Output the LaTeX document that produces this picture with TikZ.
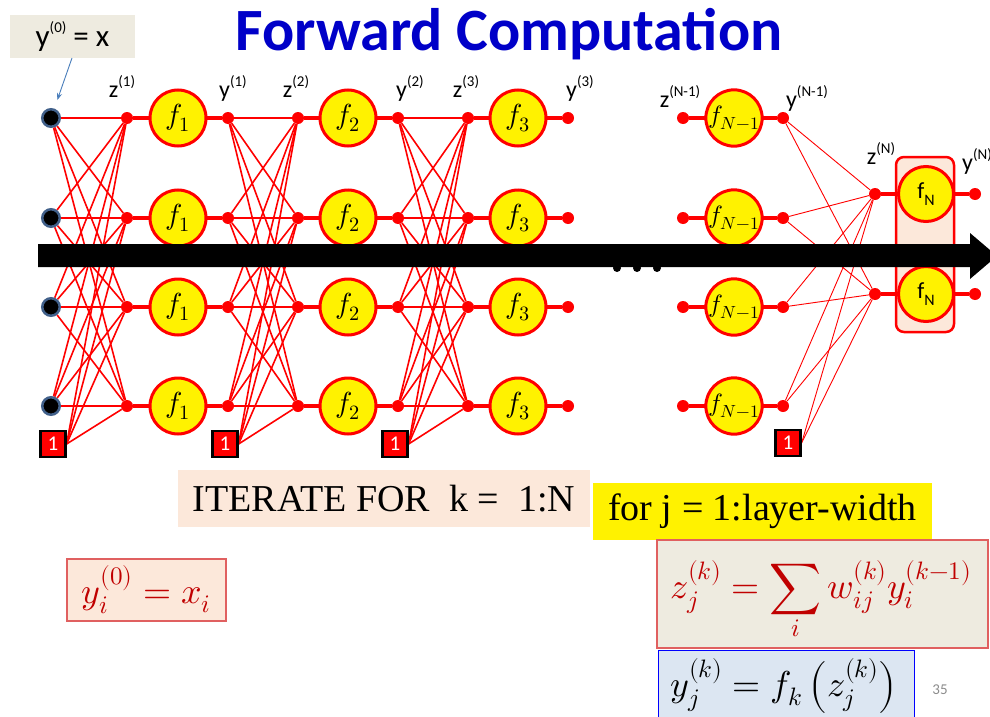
\documentclass[tikz,border=0pt]{standalone}
\usepackage{amsmath}
\usepackage{fontspec}
\usepackage{unicode-math}
\setmathfont{Latin Modern Math}
\newfontfamily\carl{Carlito}
\newfontfamily\tms{Liberation Serif}
\usetikzlibrary{arrows.meta}
\pgfdeclarelayer{bg}
\pgfsetlayers{bg,main}
\definecolor{tblue}{RGB}{0,0,200}
\definecolor{inborder}{RGB}{65,96,138}
\definecolor{peach}{RGB}{252,232,218}
\definecolor{beige}{RGB}{238,235,224}
\definecolor{lblue}{RGB}{220,230,242}
\definecolor{dred}{RGB}{192,0,0}
\definecolor{pinkred}{RGB}{224,96,96}
\definecolor{arrblue}{RGB}{74,126,187}
\definecolor{pgray}{RGB}{140,140,140}
\newcommand{\myup}[1]{\raisebox{0.45em}{\fontsize{15}{15}\selectfont #1}}
\tikzset{
  fnode/.style={circle, draw=red, line width=3pt, fill=yellow, minimum size=56pt, inner sep=0pt, font=\fontsize{29}{31}\selectfont},
  dotn/.style={circle, fill=red, minimum size=12pt, inner sep=0pt},
  innode/.style={circle, fill=black, draw=inborder, line width=2.5pt, minimum size=17.5pt, inner sep=0pt},
  biasbox/.style={rectangle, fill=red, draw=black, line width=2.2pt, minimum width=25pt, minimum height=26pt, inner sep=0pt, text=white, font=\carl\fontsize{21}{21}\selectfont},
  fanline/.style={red, line width=1.6pt},
  fanlinethin/.style={red, line width=0.9pt},
  chain/.style={red, line width=4pt},
  lab/.style={anchor=base, inner sep=0pt, font=\carl\fontsize{24}{26}\selectfont},
}
\begin{document}
\begin{tikzpicture}[x=1pt,y=-1pt]
\useasboundingbox (0,0) rectangle (990,717);

% title
\node[anchor=base, inner sep=0pt, text=tblue, font=\carl\bfseries\fontsize{60}{62}\selectfont] (title) at (509,51) {Forward Computation};

% y(0)=x box
\node[fill=beige, minimum width=125pt, minimum height=43pt, inner sep=0pt, font=\carl\fontsize{31}{33}\selectfont] (y0box) at (72.5,36.5) {y\myup{(0)} = x};

% nodes of the first layers
\foreach \yy [count=\i] in {118,218,307,406} {
  \node[innode] (x\i) at (51,\yy) {};
  \node[dotn] (za\i) at (127,\yy) {};
  \node[fnode] (fa\i) at (178,\yy) {$f_1$};
  \node[dotn] (ya\i) at (228,\yy) {};
  \node[dotn] (zb\i) at (298,\yy) {};
  \node[fnode] (fb\i) at (348,\yy) {$f_2$};
  \node[dotn] (yb\i) at (398,\yy) {};
  \node[dotn] (zc\i) at (468,\yy) {};
  \node[fnode] (fc\i) at (518,\yy) {$f_3$};
  \node[dotn] (yc\i) at (568,\yy) {};
  \node[dotn] (zd\i) at (683,\yy) {};
  \node[fnode, font=\fontsize{25}{27}\selectfont] (fd\i) at (734,\yy) {$f_{N-1}$};
  \node[dotn] (yd\i) at (783,\yy) {};
}
\node[biasbox] (b1) at (53,444) {1};
\node[biasbox] (b2) at (225,444) {1};
\node[biasbox] (b3) at (395,444) {1};
\node[biasbox] (b4) at (788,443) {1};

% last layer
\node[draw=red, line width=2.5pt, fill=peach, rounded corners=8pt, minimum width=58pt, minimum height=175pt, inner sep=0pt] (fnbox) at (925,244.5) {};
\foreach \yy [count=\i] in {194,294} {
  \node[dotn] (ze\i) at (875,\yy) {};
  \node[fnode, minimum size=55pt, font=\carl\fontsize{23}{25}\selectfont] (fe\i) at (926,\yy) {f\raisebox{-0.3em}{\fontsize{16}{16}\selectfont N}};
  \node[dotn] (ye\i) at (975,\yy) {};
}

% connectors behind
\begin{pgfonlayer}{bg}
\foreach \i in {1,...,4} {
  \draw[chain] (za\i) -- (ya\i);
  \draw[chain] (zb\i) -- (yb\i);
  \draw[chain] (zc\i) -- (yc\i);
  \draw[chain] (zd\i) -- (yd\i);
  \draw[fanline] (b1.east) -- (za\i);
  \draw[fanline] (b2.east) -- (zb\i);
  \draw[fanline] (b3.east) -- (zc\i);
  \foreach \j in {1,...,4} {
    \draw[fanline] (x\i) -- (za\j);
    \draw[fanline] (ya\i) -- (zb\j);
    \draw[fanline] (yb\i) -- (zc\j);
  }
  \foreach \j in {1,2} {
    \draw[fanlinethin] (yd\i) -- (ze\j);
  }
}
\foreach \j in {1,2} {
  \draw[fanlinethin] (b4.east) -- (ze\j);
  \draw[chain] (ze\j) -- (ye\j);
}
\end{pgfonlayer}

% pointer from y(0)=x
\coordinate (ptr) at (72,58);
\draw[arrblue, line width=0.9pt, -{Stealth[length=7pt,width=5pt]}, shorten >=9pt] (ptr) -- (x1);

% labels
\node[lab] (lz1) at (122,97) {z\myup{(1)}};
\node[lab] (ly1) at (233,97) {y\myup{(1)}};
\node[lab] (lz2) at (296,97) {z\myup{(2)}};
\node[lab] (ly2) at (410,97) {y\myup{(2)}};
\node[lab] (lz3) at (466,97) {z\myup{(3)}};
\node[lab] (ly3) at (580,97) {y\myup{(3)}};
\node[lab] (lzn1) at (680,107) {z\myup{(N-1)}};
\node[lab] (lyn1) at (807,107) {y\myup{(N-1)}};
\node[lab] (lzn) at (881,164) {z\myup{(N)}};
\node[lab, anchor=base west] (lyn) at (962,170) {y\myup{(N)}};

% ellipsis and big arrow
\foreach \xx [count=\k] in {617,637,657} {
  \fill (\xx,268) circle (4pt);
}
\fill (38,244) -- (970,244) -- (970,233) -- (997,256) -- (970,279) -- (970,267) -- (38,267) -- cycle;

% bottom boxes
\node[fill=peach, minimum width=412pt, minimum height=57pt, inner sep=0pt, font=\tms\fontsize{38}{40}\selectfont] (iter) at (384,498.5) {ITERATE FOR\ \ k =\ \ 1:N};
\node[fill=yellow, minimum width=339pt, minimum height=57pt, inner sep=0pt, font=\tms\fontsize{38}{40}\selectfont] (forj) at (762.5,511.5) {for j = 1:layer-width};

\node[fill=peach, draw=pinkred, line width=1.3pt, minimum width=159pt, minimum height=62pt, inner sep=0pt, text=dred, font=\fontsize{36}{38}\selectfont] (init) at (146.5,590) {$y_i^{(0)} = x_i$};

\node[fill=beige, draw=pinkred, line width=1.3pt, minimum width=331pt, minimum height=108pt, inner sep=0pt] (zbox) at (822.5,594) {};
\node[text=dred, font=\fontsize{36}{38}\selectfont, inner sep=0pt] (zform) at (821,601) {$\displaystyle z_j^{(k)} = \sum_i w_{ij}^{(k)} y_i^{(k-1)}$};

\node[fill=lblue, draw=blue, line width=1.3pt, minimum width=256pt, minimum height=80pt, inner sep=0pt, anchor=north west] (ybox) at (658,650) {};
\node[font=\fontsize{36}{38}\selectfont, inner sep=0pt] (yform) at (784,686) {$y_j^{(k)} = f_k\left(z_j^{(k)}\right)$};

\node[text=pgray, font=\carl\fontsize{15}{15}\selectfont, inner sep=0pt] (pnum) at (940,690) {35};
\end{tikzpicture}
\end{document}
